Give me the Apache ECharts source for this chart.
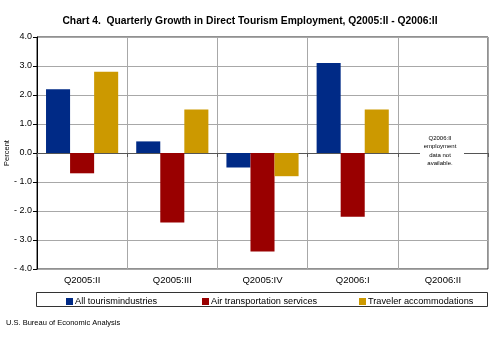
<!DOCTYPE html>
<html><head><meta charset="utf-8">
<script src="https://cdn.jsdelivr.net/npm/echarts@6/dist/echarts.min.js"></script>
<style>html,body{margin:0;padding:0;background:#fff}#c{width:500px;height:341px}</style>
</head><body><div id="c"></div>
<script>
const categories = ['Q2005:II','Q2005:III','Q2005:IV','Q2006:I','Q2006:II'];
const allTourism = [2.2, 0.4, -0.5, 3.1, null];
const airTransport = [-0.7, -2.4, -3.4, -2.2, null];
const travelerAccom = [2.8, 1.5, -0.8, 1.5, null];
const seriesNames = ['All tourismindustries','Air transportation services','Traveler accommodations'];
const colors = ['#002A86','#990000','#CC9900'];

const chart = echarts.init(document.getElementById('c'), null, {renderer:'canvas'});
const font = 'Arial, "Liberation Sans", sans-serif';
const fmt = v => v < 0 ? '- ' + Math.abs(v).toFixed(1) : v.toFixed(1);
const legendLefts = [61, 197, 354];
chart.setOption({
  animation: false,
  backgroundColor: '#fff',
  textStyle: {fontFamily: font},
  title: {
    text: 'Chart 4.  Quarterly Growth in Direct Tourism Employment, Q2005:II - Q2006:II',
    left: 'center', top: 11,
    textStyle: {fontSize: 10.3, fontWeight: 'bold', color: '#000', fontFamily: font}
  },
  grid: {left: 37, right: 12, top: 37, bottom: 72, show: true, borderColor: '#222', borderWidth: 1, outerBoundsMode: 'none', containLabel: false},
  legend: legendLefts.map((l, i) => ({
    data: [seriesNames[i]], left: l, top: 292, itemWidth: 7, itemHeight: 7, itemGap: 0,
    icon: 'rect', textStyle: {fontSize: 9.2, color: '#000', fontFamily: font, padding: [0,0,0,-3]}
  })),
  xAxis: [{
    type: 'category', data: categories,
    axisLine: {onZero: true, lineStyle: {color: '#555', width: 1}},
    axisTick: {show: true, length: 4, lineStyle: {color: '#555'}},
    axisLabel: {show: false},
    splitLine: {show: true, lineStyle: {color: '#A8A8A8', width: 1}}
  }, {
    type: 'category', data: categories, position: 'bottom',
    axisLine: {show: false, onZero: false}, axisTick: {show: false},
    axisLabel: {fontSize: 9.5, color: '#000', margin: 6, fontFamily: font}
  }],
  yAxis: {
    type: 'value', min: -4, max: 4, interval: 1,
    name: 'Percent', nameLocation: 'middle', nameRotate: 90, nameGap: 26, nameMoveOverlap: false,
    nameTextStyle: {fontSize: 7.5, color: '#000', fontFamily: font},
    axisLine: {show: true, lineStyle: {color: '#000'}},
    axisTick: {show: true, length: 4, lineStyle: {color: '#000'}},
    axisLabel: {formatter: fmt, fontSize: 9, color: '#000', margin: 5, fontFamily: font},
    splitLine: {lineStyle: {color: '#A8A8A8', width: 1}}
  },
  series: [allTourism, airTransport, travelerAccom].map((d, i) => ({
    name: seriesNames[i], type: 'bar', data: d, xAxisIndex: 0,
    barGap: '0%', barCategoryGap: '20%',
    itemStyle: {color: colors[i]}
  })),
  graphic: [
    {type: 'rect', shape: {x: 36.5, y: 292.5, width: 451, height: 14}, style: {fill: 'none', stroke: '#333', lineWidth: 1}, z: 0},
    {type: 'text', left: 6, top: 319, style: {text: 'U.S. Bureau of Economic Analysis', font: '7.5px ' + font, fill: '#000'}},
    {type: 'rect', shape: {x: 420, y: 134, width: 44, height: 36}, style: {fill: '#fff'}, z: 50},
    {type: 'text', x: 440, y: 134, z: 51, style: {text: 'Q2006:II\nemployment\ndata not\navailable.', font: '6px ' + font, fill: '#000', align: 'center', lineHeight: 8.5}}
  ]
});
</script></body></html>
